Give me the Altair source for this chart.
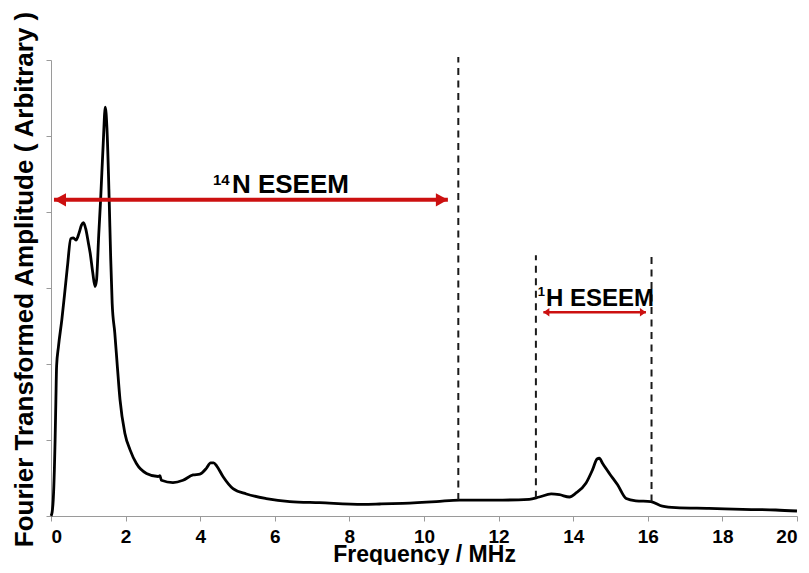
import altair as alt
import pandas as pd

# ---- spectrum ----
freq = [0.00, 0.03, 0.06, 0.09, 0.11, 0.13, 0.15, 0.20, 0.29, 0.36, 0.44, 0.53,
        0.60, 0.67, 0.75, 0.82, 0.87, 0.93, 1.00, 1.05, 1.12, 1.18, 1.22, 1.28,
        1.33, 1.40, 1.455, 1.50, 1.56, 1.60, 1.64, 1.71, 1.78, 1.85, 1.98, 2.12,
        2.29, 2.56, 2.87, 2.92, 2.96, 3.27, 3.54, 3.81, 3.99, 4.17, 4.28, 4.36,
        4.44, 4.61, 4.88, 5.24, 5.77, 6.40, 7.20, 8.36, 8.81, 9.43, 10.33, 10.95,
        12.11, 12.82, 13.09, 13.41, 13.63, 13.90, 14.07, 14.34, 14.52, 14.64,
        14.70, 14.79, 14.97, 15.19, 15.42, 15.68, 16.08, 16.39, 16.75, 17.64,
        18.54, 19.43, 20.00]
amp = [0.00, 0.05, 0.21, 0.60, 1.00, 1.50, 1.97, 2.23, 2.58, 2.90, 3.28, 3.65,
       3.66, 3.63, 3.72, 3.83, 3.86, 3.78, 3.60, 3.46, 3.20, 3.02, 3.10, 3.70,
       4.16, 4.90, 5.38, 5.10, 4.16, 3.40, 2.80, 2.41, 1.96, 1.53, 1.09, 0.87,
       0.69, 0.56, 0.52, 0.53, 0.47, 0.44, 0.47, 0.54, 0.55, 0.63, 0.70, 0.70,
       0.66, 0.52, 0.36, 0.29, 0.23, 0.19, 0.175, 0.154, 0.158, 0.167, 0.19, 0.21,
       0.21, 0.22, 0.25, 0.29, 0.28, 0.25, 0.30, 0.43, 0.61, 0.75,
       0.76, 0.69, 0.56, 0.41, 0.23, 0.20, 0.19, 0.13, 0.11, 0.10,
       0.088, 0.079, 0.066]

x_ticks = [0, 2, 4, 6, 8, 10, 12, 14, 16, 18, 20]
y_ticks = [0, 1, 2, 3, 4, 5, 6]

# ---- dashed markers ----
dash_x = [10.92, 13.0, 16.1]
dash_top = [6.04, 3.43, 3.43]
dash_bottom = [0.21, 0.24, 0.19]

# ---- arrows ----
n_arrow_x = [0.08, 10.64]
n_arrow_y = [4.16]
h_arrow_x = [13.2, 15.95]
h_arrow_y = [2.68]

# ---- annotation text ----
n_label = ["14", "N ESEEM"]
n_label_x = [4.34, 4.85]
n_label_y = [4.36, 4.25]
h_label = ["1", "H ESEEM"]
h_label_x = [13.05, 13.27]
h_label_y = [2.89, 2.76]

RED = "#cc1010"
FONT = "Liberation Sans"

xs = alt.Scale(domain=[0, 20], nice=False)
ys = alt.Scale(domain=[0, 6], nice=False)

spec = pd.DataFrame({"f": freq, "a": amp})
line = alt.Chart(spec).mark_line(color="black", strokeWidth=2.8, interpolate="monotone").encode(
    x=alt.X("f:Q", scale=xs, axis=alt.Axis(
        values=x_ticks, title="Frequency / MHz", grid=False,
        labelFont=FONT, labelFontWeight="bold", labelFontSize=19, labelColor="black",
        tickColor="#9a9a9a", domainColor="#9a9a9a", tickSize=5, labelPadding=6,
        titleFont=FONT, titleFontWeight="bold", titleFontSize=23, titleColor="black",
        titleY=45, titleBaseline="alphabetic")),
    y=alt.Y("a:Q", scale=ys, axis=alt.Axis(
        values=y_ticks, labels=False, grid=False, title="Fourier Transformed Amplitude ( Arbitrary )",
        tickColor="#9a9a9a", domainColor="#9a9a9a", tickSize=5,
        titleFont=FONT, titleFontWeight="bold", titleFontSize=26, titleColor="black",
        titleX=-27, titleY=219, titleAlign="center", titleBaseline="middle", titleAngle=270)),
)

dashes = alt.Chart(pd.DataFrame({"x": dash_x, "y1": dash_bottom, "y2": dash_top})).mark_rule(
    color="#1a1a1a", strokeWidth=2, strokeDash=[7, 5.5]).encode(
    x=alt.X("x:Q", scale=xs), y=alt.Y("y1:Q", scale=ys), y2="y2:Q")

n_rule = alt.Chart(pd.DataFrame({"x1": [n_arrow_x[0]], "x2": [n_arrow_x[1]], "y": n_arrow_y})).mark_rule(
    color=RED, strokeWidth=4).encode(x=alt.X("x1:Q", scale=xs), x2="x2:Q", y=alt.Y("y:Q", scale=ys))
h_rule = alt.Chart(pd.DataFrame({"x1": [h_arrow_x[0]], "x2": [h_arrow_x[1]], "y": h_arrow_y})).mark_rule(
    color=RED, strokeWidth=2.6).encode(x=alt.X("x1:Q", scale=xs), x2="x2:Q", y=alt.Y("y:Q", scale=ys))

LEFT_HEAD = "M0,0L1,-0.55L1,0.55Z"
RIGHT_HEAD = "M0,0L-1,-0.55L-1,0.55Z"
LEFT_HEAD_S = "M0,0L1,-0.7L1,0.7Z"
RIGHT_HEAD_S = "M0,0L-1,-0.7L-1,0.7Z"

def head(x, y, shape, size):
    return alt.Chart(pd.DataFrame({"x": [x], "y": [y]})).mark_point(
        shape=shape, size=size, filled=True, color=RED, opacity=1, strokeWidth=0).encode(
        x=alt.X("x:Q", scale=xs), y=alt.Y("y:Q", scale=ys))

heads = [
    head(n_arrow_x[0], n_arrow_y[0], LEFT_HEAD, 576),
    head(n_arrow_x[1], n_arrow_y[0], RIGHT_HEAD, 576),
    head(h_arrow_x[0], h_arrow_y[0], LEFT_HEAD_S, 144),
    head(h_arrow_x[1], h_arrow_y[0], RIGHT_HEAD_S, 144),
]

def label(txt, x, y, size):
    return alt.Chart(pd.DataFrame({"t": [txt], "x": [x], "y": [y]})).mark_text(
        font=FONT, fontWeight="bold", fontSize=size, color="black", align="left",
        baseline="alphabetic").encode(
        x=alt.X("x:Q", scale=xs), y=alt.Y("y:Q", scale=ys), text="t:N")

texts = [
    label(n_label[0], n_label_x[0], n_label_y[0], 15),
    label(n_label[1], n_label_x[1], n_label_y[1], 26),
    label(h_label[0], h_label_x[0], h_label_y[0], 13),
    label(h_label[1], h_label_x[1], h_label_y[1], 24),
]

chart = alt.layer(line, dashes, n_rule, h_rule, *heads, *texts).properties(
    width=746, height=456,
    autosize=alt.AutoSizeParams(type="none"),
    padding={"left": 43, "top": 52, "right": 4, "bottom": 49},
    background="white",
).configure_view(stroke=None)

chart.save("out.html", embed_options={"renderer": "svg", "actions": False})
